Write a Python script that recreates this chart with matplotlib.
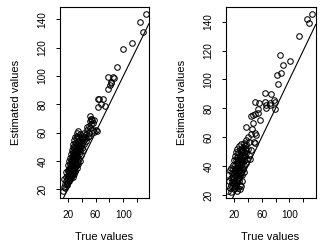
import matplotlib
matplotlib.use("Agg")
import matplotlib.pyplot as plt

plt.rcParams['font.family'] = ['Liberation Sans', 'DejaVu Sans']

# ---- Left panel data (true, estimated) ----
left_true = [13, 14, 15, 16, 17, 18, 19, 18, 20, 20, 21, 21, 22, 22, 22, 23, 23, 23, 24, 24,
             24, 25, 25, 25, 25, 26, 26, 26, 26, 27, 27, 27, 27, 28, 28, 28, 28, 28, 29, 29,
             29, 29, 29, 30, 30, 30, 30, 30, 31, 31, 31, 31, 31, 32, 32, 32, 32, 34, 33, 33,
             33, 33, 34, 34, 34, 34, 35, 35, 35, 35, 36, 36, 36, 37, 37, 37, 38, 38, 38, 39,
             39, 40, 40, 41, 42, 42, 43, 44, 44, 45, 46, 47, 48, 49, 50, 51, 52, 52, 53, 54,
             55, 56, 57, 58, 60, 62, 25, 27, 29, 31, 33, 35, 24, 26, 21, 19,
             16, 19, 21, 23, 24, 26, 28, 30, 32, 34, 36, 38, 40, 43, 46, 48, 50, 29, 27, 33,
             52, 54, 57.8, 63, 64, 68.4, 73.5, 71, 65.5, 78.4, 80.7, 83, 82.4, 78.4, 85.6,
             87, 91, 100, 113, 124, 128, 132.6]
left_est = [19, 22, 27, 24, 26, 29, 23, 32, 28, 34, 30, 37, 26, 33, 40, 29, 36, 31, 38, 33,
            42, 30, 35, 40, 45, 32, 37, 43, 48, 34, 39, 44, 50, 31, 36, 41, 46, 52, 35, 40,
            45, 49, 55, 33, 38, 43, 47, 53, 36, 41, 45, 50, 57, 38, 42, 48, 53, 60, 40, 44,
            51, 56, 37, 46, 50, 58, 42, 48, 54, 61, 45, 52, 57, 40, 49, 55, 47, 53, 59, 44,
            51, 49, 56, 53, 48, 58, 55, 52, 60, 57, 54, 59, 62, 57, 60, 65, 63, 68, 70, 66,
            69, 62, 67, 60.7, 61.9, 61, 28, 29, 31, 33, 35, 38, 27, 30, 25, 24,
            21, 27, 33, 34, 35, 40, 43, 39, 45, 43, 49, 50, 52, 57, 56, 64, 58, 42, 47, 48,
            71.9, 69.5, 69.2, 78.4, 83.5, 80, 79, 83.6, 83.8, 90.9, 93.7, 94.9, 95.5, 99, 99,
            98.5, 106.6, 119, 123, 138.3, 131.3, 143.5]

# ---- Right panel data (true, estimated) ----
right_true = [12, 14, 16, 18, 20, 22, 24, 26, 28, 30, 29, 13, 12, 14, 15, 16, 17, 17, 18, 19,
              19, 20, 20, 21, 21, 22, 22, 22, 23, 23, 23, 24, 24, 24, 25, 25, 26, 26, 26, 26,
              27, 27, 27, 27, 28, 28, 28, 28, 29, 29, 29, 29, 30, 30, 30, 30, 31, 31, 31, 32,
              32, 32, 33, 33, 33, 34, 34, 35, 35, 36, 36, 37, 37, 38, 38, 39, 40, 40, 41, 42,
              43, 44, 45, 25, 23, 21, 27, 31, 34,
              15, 18, 20, 22, 24, 25, 26, 28, 30, 32, 34, 36, 38, 19, 23, 27, 31,
              37.3, 45.5, 52.2, 49, 51, 50, 48, 47.8, 51, 55, 57, 44, 54.8, 66, 79.2, 50.3,
              56.6, 64.8, 72, 79.2, 64.5, 74.1, 65.9, 72.2, 78.4, 84, 81.7, 87.5, 86.1, 91.3,
              101, 113.6, 125, 128.6, 132.7]
right_est = [23, 25, 22, 26, 24, 25, 23, 25, 24, 26, 27, 30, 34, 37, 32, 39, 35, 29, 41, 33,
             38, 30, 44, 36, 41, 28, 33, 47, 39, 44, 50, 31, 36, 42, 46, 52, 34, 39, 44, 49,
             30, 37, 42, 54, 35, 40, 46, 51, 33, 38, 44, 48, 36, 41, 50, 55, 39, 45, 52, 34,
             43, 48, 38, 46, 53, 41, 50, 44, 56, 47, 52, 42, 58, 49, 55, 45, 52, 60, 57, 48,
             45, 51, 62, 29, 27, 26, 32, 30, 36,
             27, 31, 35, 38, 40, 43, 46, 48, 45, 50, 47, 54, 51, 28, 34, 32, 42,
             67.2, 65.5, 61.5, 57, 56, 63, 70, 75.2, 76, 77, 72, 75, 79.3, 80.5, 79.8, 84.1,
             83.5, 84.6, 83.8, 84.4, 90.4, 89.7, 82.2, 82.5, 85.5, 96.8, 103, 104.2, 117.1, 110,
             112.8, 130.3, 141.6, 139.3, 145.1]

x_ticks = [20, 40, 60, 80, 100, 120]
x_ticklabels = ['20', '', '60', '', '100', '']
y_ticks = [20, 40, 60, 80, 100, 120, 140]
y_ticklabels = ['20', '40', '60', '80', '100', '120', '140']

W, H = 331, 245
fig = plt.figure(figsize=(W / 100, H / 100), dpi=100)

panels = [
    dict(rect=(60, 7, 149, 198), xl=(8.9, 137), yl=(13.9, 148.7), x=left_true, y=left_est),
    dict(rect=(226, 7, 315.7, 198), xl=(8.4, 138), yl=(17.9, 150.2), x=right_true, y=right_est),
]

for p in panels:
    x0, y0, x1, y1 = p['rect']
    ax = fig.add_axes([x0 / W, 1 - y1 / H, (x1 - x0) / W, (y1 - y0) / H])
    ax.plot(p['x'], p['y'], linestyle='none', marker='o', markersize=4.0,
            markerfacecolor='none', markeredgecolor='black', markeredgewidth=0.75)
    ax.axline((0, 0), slope=1, color='black', linewidth=0.8)
    ax.set_xlim(*p['xl'])
    ax.set_ylim(*p['yl'])
    ax.set_xticks(x_ticks)
    ax.set_xticklabels(x_ticklabels)
    ax.set_yticks(y_ticks)
    ax.set_yticklabels(y_ticklabels, rotation=90, va='center')
    ax.tick_params(axis='both', direction='out', length=3, width=0.7,
                   labelsize=7.2, colors='black')
    ax.tick_params(axis='x', pad=5.5)
    ax.tick_params(axis='y', pad=6)
    for s in ax.spines.values():
        s.set_linewidth(0.8)
    ax.set_xlabel('True values', fontsize=8)
    ax.set_ylabel('Estimated values', fontsize=8)
    ax.xaxis.set_label_coords(0.49, -0.203)
    ax.yaxis.set_label_coords(-0.49, 0.5)
    ax.xaxis.label.set_va('center')
    ax.yaxis.label.set_va('center')

fig.savefig('out.png', dpi=100)
